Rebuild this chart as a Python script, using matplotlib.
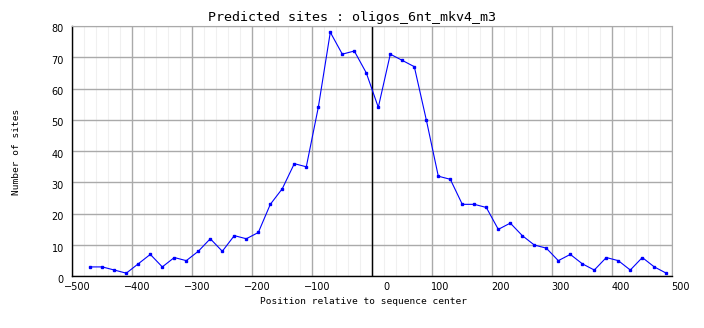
import numpy as np
import matplotlib
matplotlib.use('Agg')
import matplotlib.pyplot as plt
from matplotlib.transforms import ScaledTranslation

# positions of the bins (read against the grid) and number of sites per bin
positions = np.arange(-470, 491, 20)
sites = [3, 3, 2, 1, 4, 7, 3, 6, 5, 8,
         12, 8, 13, 12, 14, 23, 28, 36, 35, 54,
         78, 71, 72, 65, 54, 71, 69, 67, 50, 32,
         31, 23, 23, 22, 15, 17, 13, 10, 9, 5,
         7, 4, 2, 6, 5, 2, 6, 3, 1]

x_ticks = [-500, -400, -300, -200, -100, 0, 100, 200, 300, 400, 500]
y_ticks = [0, 10, 20, 30, 40, 50, 60, 70, 80]

title = 'Predicted sites : oligos_6nt_mkv4_m3'
x_label = 'Position relative to sequence center'
y_label = 'Number of sites'


def main() -> None:
    fig = plt.figure(figsize=(7.04, 3.28), dpi=100)
    fig.patch.set_facecolor('white')
    ax = fig.add_axes([72.3 / 704, 1 - 276.3 / 328, 600 / 704, 250.3 / 328])

    ax.set_xlim(-500, 500)
    ax.set_ylim(0, 80)

    # grid
    ax.set_xticks(x_ticks)
    ax.set_xticks(np.arange(-500, 501, 20), minor=True)
    ax.set_yticks(y_ticks)
    ax.grid(which='major', color='#aaaaaa', linewidth=1.0)
    ax.grid(which='minor', axis='x', color='#f0f0f0', linewidth=0.8)
    ax.set_axisbelow(True)

    # black line at the sequence center
    ax.axvline(0, color='black', linewidth=1.0, zorder=2)

    ax.plot(positions, sites, color='#0000ff', linewidth=0.8,
            marker='s', markersize=2.0, zorder=3)

    for side in ['top', 'right']:
        ax.spines[side].set_color('#aaaaaa')
    for side in ['left', 'bottom']:
        ax.spines[side].set_color('black')
        ax.spines[side].set_linewidth(1.0)

    ax.tick_params(which='both', length=0)
    ax.tick_params(axis='x', pad=4.0, labelsize=7)
    ax.tick_params(axis='y', pad=6.0, labelsize=7)

    # the original places its labels a bit right of the grid lines
    for lab, val in zip(ax.get_xticklabels(), x_ticks):
        if val < 0:
            dx = 5
        elif val == 0:
            dx = 14
        else:
            dx = 8
        off = ScaledTranslation(dx / 100, 0, fig.dpi_scale_trans)
        lab.set_transform(lab.get_transform() + off)
    for lab in ax.get_yticklabels():
        off = ScaledTranslation(0, -2.5 / 100, fig.dpi_scale_trans)
        lab.set_transform(lab.get_transform() + off)

    fig.text(351.5 / 704, 1 - 18 / 328, title, family='DejaVu Sans Mono',
             fontsize=9.6, ha='center', va='center')
    fig.text(364 / 704, 1 - 302 / 328, x_label, family='DejaVu Sans Mono',
             fontsize=6.8, ha='center', va='center')
    fig.text(16.5 / 704, 1 - 152 / 328, y_label, family='DejaVu Sans Mono',
             fontsize=6.8, ha='center', va='center', rotation=90)

    fig.savefig('out.png', dpi=100)


if __name__ == '__main__':
    main()
